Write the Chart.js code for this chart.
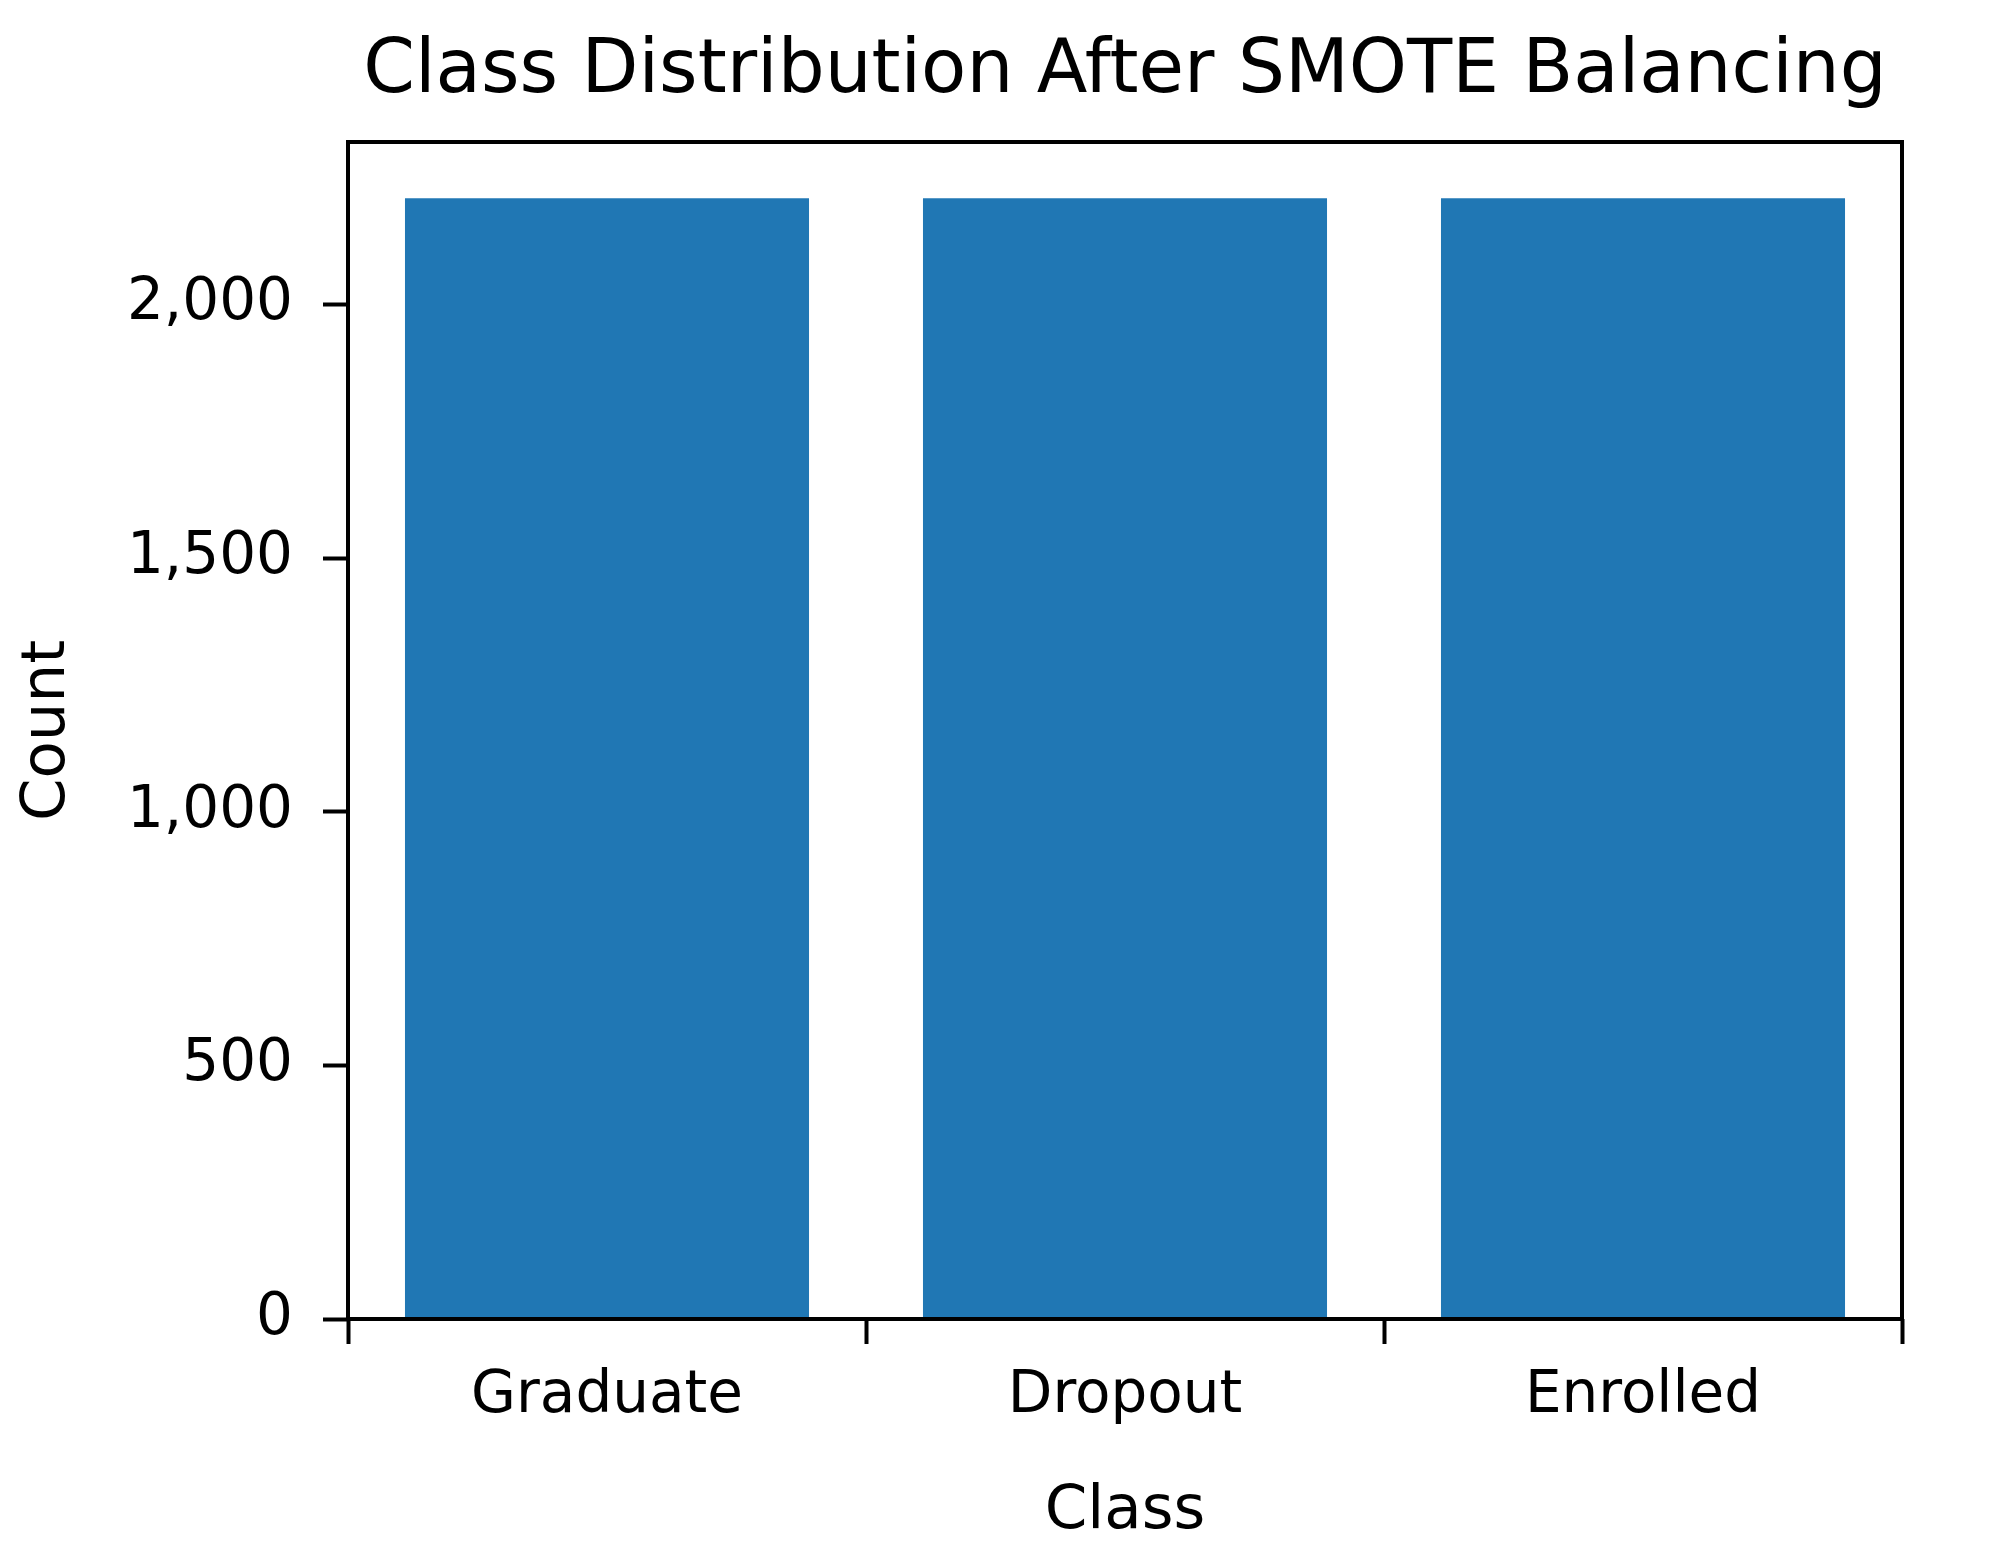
<!DOCTYPE html>
<html>
<head>
<meta charset="utf-8">
<script src="https://cdn.jsdelivr.net/npm/chart.js@4/dist/chart.umd.min.js"></script>
<style>
  body { margin: 0; background: #fff; }
  #wrap { width: 1993px; height: 1560px; }
</style>
</head>
<body>
<div id="wrap"><canvas id="MyChart" width="1993" height="1560"></canvas></div>
<script>
var classLabels = ["Graduate", "Dropout", "Enrolled"];
var classCounts = [2209, 2209, 2209];
var yTicks = [0, 500, 1000, 1500, 2000];
var chartTitle = "Class Distribution After SMOTE Balancing";

const font = "'DejaVu Sans', sans-serif";

// frame around plot area + title centred over it
const framePlugin = {
    id: "frame",
    afterDraw(chart) {
        const c = chart.ctx, a = chart.chartArea;
        c.save();
        c.strokeStyle = "#000";
        c.lineWidth = 4;
        c.strokeRect(a.left, a.top, a.right - a.left, a.bottom - a.top);
        c.fillStyle = "#000";
        c.font = "74px " + font;
        c.textAlign = "center";
        c.textBaseline = "alphabetic";
        c.fillText(chartTitle, (a.left + a.right) / 2, 92);
        c.restore();
    }
};

Chart.defaults.font.family = font;
Chart.defaults.color = "#000";

new Chart(document.getElementById("MyChart"), {
    type: "bar",
    data: {
        labels: classLabels,
        datasets: [{
            data: classCounts,
            backgroundColor: "#2077b4",
            barPercentage: 0.78,
            categoryPercentage: 1
        }]
    },
    options: {
        responsive: false,
        animation: false,
        layout: { padding: { top: 142, right: 91, left: 0, bottom: 0 } },
        plugins: { legend: { display: false }, tooltip: { enabled: false }, title: { display: false } },
        scales: {
            x: {
                afterFit: (s) => { s.height = 241; },
                grid: { display: true, drawOnChartArea: false, tickLength: 25, tickWidth: 4, tickColor: "#000" },
                border: { display: false },
                ticks: { font: { size: 58 }, padding: 18 },
                title: { display: true, text: "Class", font: { size: 61 }, padding: { top: 0, bottom: 11 } }
            },
            y: {
                min: 0,
                max: 2320,
                afterFit: (s) => { s.width = 348; },
                afterBuildTicks: (s) => { s.ticks = yTicks.map(v => ({ value: v })); },
                grid: { display: true, drawOnChartArea: false, tickLength: 25, tickWidth: 4, tickColor: "#000" },
                border: { display: false },
                ticks: { font: { size: 58 }, padding: 30 },
                title: { display: true, text: "Count", font: { size: 61 }, padding: { top: 12, bottom: 0 } }
            }
        }
    },
    plugins: [framePlugin]
});
</script>
</body>
</html>
